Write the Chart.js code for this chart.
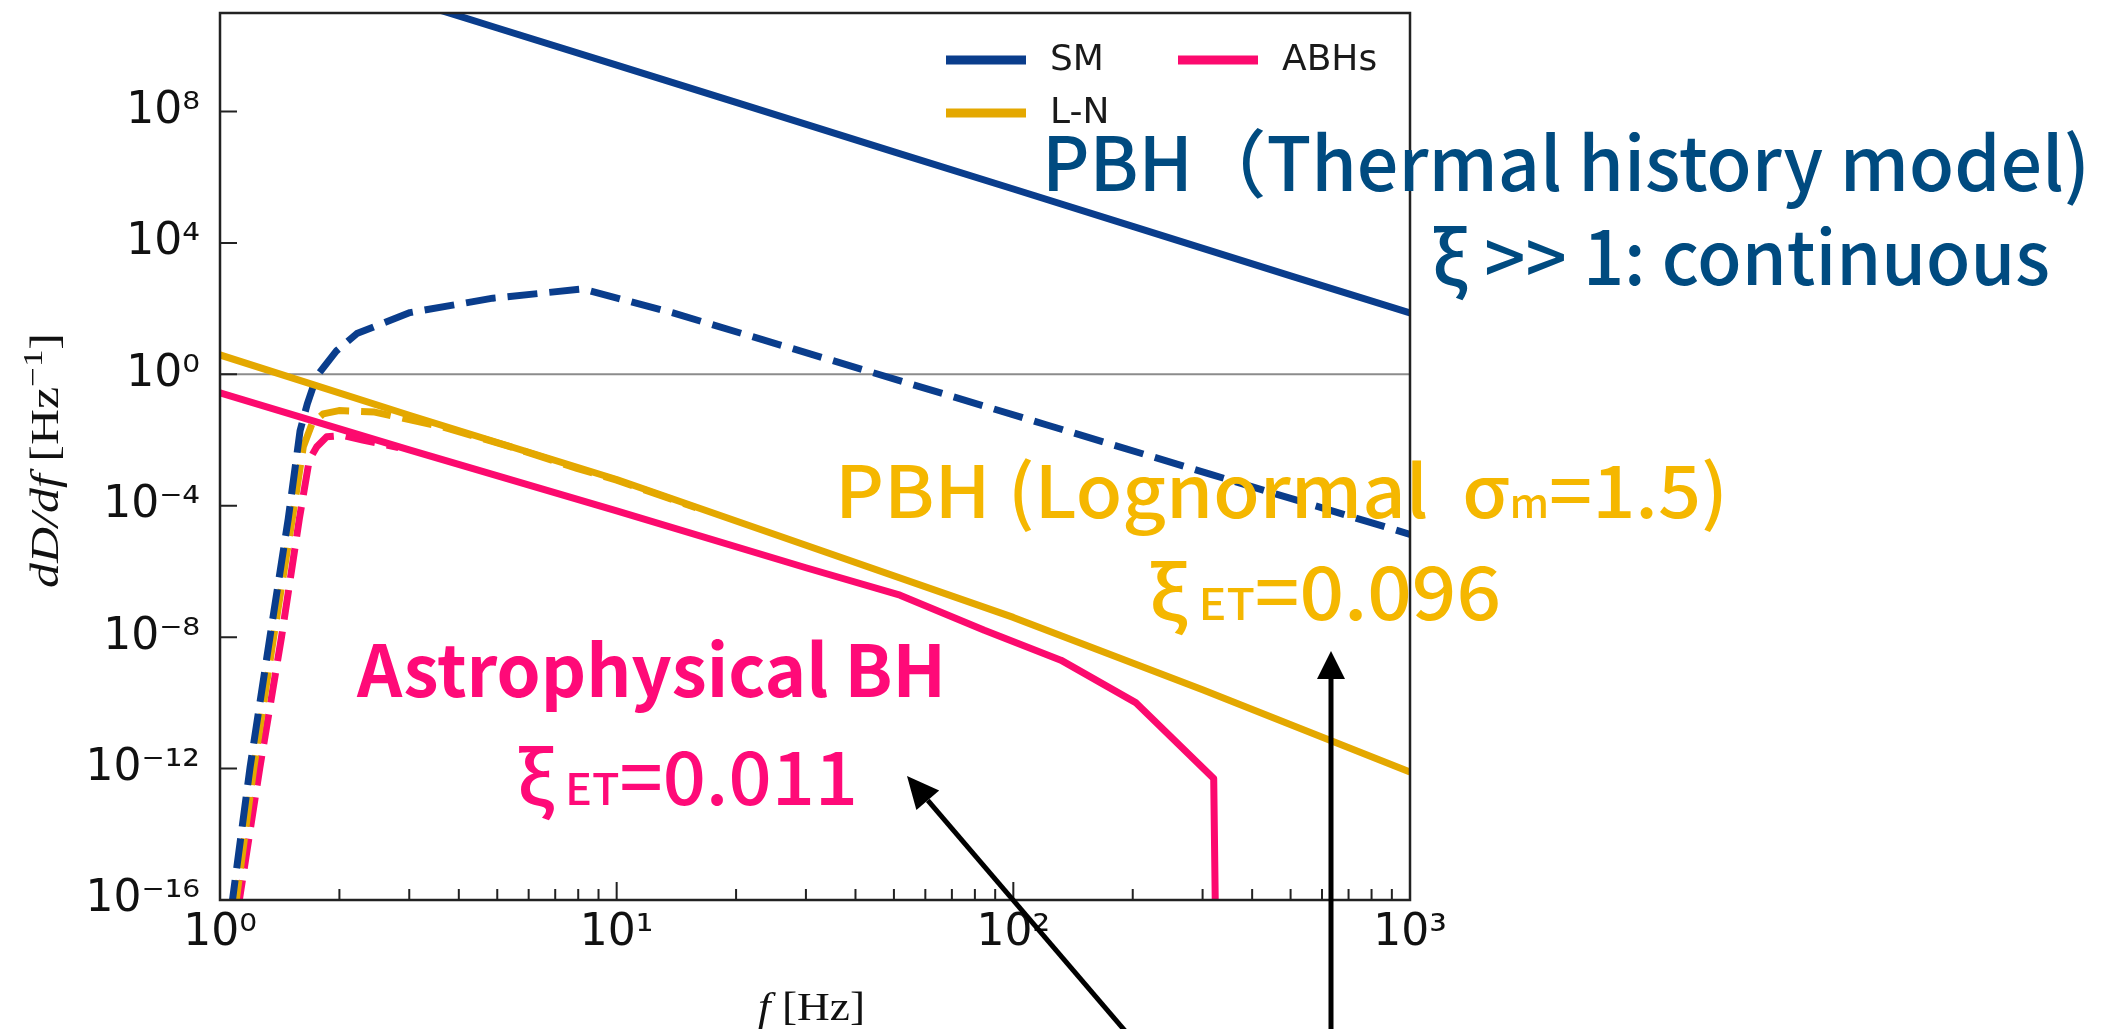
<!DOCTYPE html>
<html>
<head>
<meta charset="utf-8">
<script src="https://cdn.jsdelivr.net/npm/chart.js@4.4.1/dist/chart.umd.min.js"></script>
<style>
  html, body { margin: 0; padding: 0; background: #fff; }
</style>
</head>
<body>
<canvas id="chart" width="2110" height="1029"></canvas>
<script>
// values: f in Hz, dD/df in Hz^-1
const smFreq = [1, 2, 5, 10, 20, 50, 100, 200, 500, 1000];
const smVal = [1.5e13, 1.1e12, 3.5e10, 2.6e9, 1.9e8, 5.9e6, 4.4e5, 3.2e4, 1.0e3, 74];
const smDashFreq = [1.067, 1.191, 1.337, 1.486, 1.592, 1.66, 1.754, 1.968, 2.213, 3.013, 4.875, 8.222, 13.87, 44.36, 121.6, 316.2, 1000];
const smDashVal = [5e-17, 1.12e-12, 1.05e-8, 4.0e-5, 0.0195, 0.126, 0.89, 5.25, 17.4, 76, 209, 398, 74, 1.12, 0.0288, 8.9e-4, 1.35e-5];

const lnFreq = [1, 3, 10, 30, 100, 300, 1000];
const lnVal = [3.9, 0.057, 6.3e-4, 6.3e-6, 4.0e-8, 2.5e-10, 7.9e-13];
const lnDashFreq = [1.091, 1.216, 1.365, 1.521, 1.622, 1.706, 1.82, 1.995, 2.455, 3.656, 5.383, 7.943, 10, 15.85];
const lnDashVal = [5e-17, 1e-12, 1e-8, 4.0e-5, 6.3e-3, 0.0316, 0.063, 0.079, 0.071, 0.025, 6.3e-3, 1.38e-3, 6.0e-4, 8.7e-5];

const abhFreq = [1, 3, 10, 30, 51.8, 84.5, 131.8, 204, 320, 323.6];
const abhVal = [0.275, 5.0e-3, 7.0e-5, 1.3e-6, 1.9e-7, 1.62e-8, 2.0e-9, 1.0e-10, 5.0e-13, 1e-17];
const abhDashFreq = [1.109, 1.259, 1.429, 1.585, 1.679, 1.754, 1.858, 2.042, 2.291, 2.818];
const abhDashVal = [5e-17, 1e-12, 1e-8, 4e-5, 2.5e-3, 6.3e-3, 0.0126, 0.0138, 0.01, 5.9e-3];

const unityFreq = [1, 1000];
const unityVal = [1, 1];

const xTickValues = [1, 10, 100, 1000];
const xTickLabels = ['10⁰', '10¹', '10²', '10³'];
const yTickValues = [1e-16, 1e-12, 1e-8, 1e-4, 1, 1e4, 1e8];
const yTickLabels = ['10⁻¹⁶', '10⁻¹²', '10⁻⁸', '10⁻⁴', '10⁰', '10⁴', '10⁸'];

const blue = '#0a3d8c', gold = '#e4a800', pink = '#fc0a6e';
const textBlue = '#004b80', textGold = '#f5b700', textPink = '#ff0a78';
const jp = '"Noto Sans CJK JP", "Noto Sans", sans-serif';
const serif = '"Liberation Serif", "DejaVu Serif", serif';

const pts = (fs, vs) => fs.map((f, i) => ({ x: f, y: vs[i] }));

function series(label, fs, vs, color, dashed, order, width) {
  return {
    label, data: pts(fs, vs), borderColor: color, backgroundColor: color,
    borderWidth: width || 7, borderDash: dashed ? [30, 12] : [],
    pointRadius: 0, tension: 0, fill: false, order, clip: 0,
    borderCapStyle: 'butt', borderJoinStyle: 'round'
  };
}

// minor ticks 2..9 in each decade on the x axis
const xMinor = [];
[1, 10, 100].forEach(d => { for (let k = 2; k < 10; k++) xMinor.push(k * d); });

// draw a run of text pieces on one baseline, squeezed to a given width
function drawRun(ctx, segs, x, y, width, color) {
  ctx.save();
  let total = 0;
  segs.forEach(s => { ctx.font = s.font; total += ctx.measureText(s.t).width; });
  ctx.translate(x, y);
  ctx.scale(width / total, 1);
  ctx.fillStyle = color;
  ctx.textBaseline = 'alphabetic';
  ctx.textAlign = 'left';
  let cx = 0;
  segs.forEach(s => {
    ctx.font = s.font;
    ctx.fillText(s.t, cx, s.dy || 0);
    cx += ctx.measureText(s.t).width;
  });
  ctx.restore();
}

function arrow(ctx, x0, y0, x1, y1, L, W) {
  const a = Math.atan2(y1 - y0, x1 - x0);
  const bx = x1 - L * Math.cos(a), by = y1 - L * Math.sin(a);
  ctx.beginPath(); ctx.moveTo(x0, y0); ctx.lineTo(bx, by); ctx.stroke();
  ctx.beginPath();
  ctx.moveTo(x1, y1);
  ctx.lineTo(bx + W * Math.sin(a), by - W * Math.cos(a));
  ctx.lineTo(bx - W * Math.sin(a), by + W * Math.cos(a));
  ctx.closePath(); ctx.fill();
}

const framePlugin = {
  id: 'frame',
  afterDatasetsDraw(chart) {
    const { ctx, chartArea: a, scales: { x, y } } = chart;
    ctx.save();
    ctx.strokeStyle = '#222';
    ctx.lineWidth = 2.5;
    ctx.strokeRect(a.left, a.top, a.right - a.left, a.bottom - a.top);
    ctx.lineWidth = 2;
    ctx.beginPath();
    xTickValues.forEach(v => { const p = x.getPixelForValue(v); ctx.moveTo(p, a.bottom); ctx.lineTo(p, a.bottom - 18); });
    xMinor.forEach(v => { const p = x.getPixelForValue(v); ctx.moveTo(p, a.bottom); ctx.lineTo(p, a.bottom - 11); });
    yTickValues.forEach(v => { const p = y.getPixelForValue(v); ctx.moveTo(a.left, p); ctx.lineTo(a.left + 17, p); });
    ctx.stroke();
    ctx.restore();
  }
};

const notesPlugin = {
  id: 'notes',
  afterDraw(chart) {
    const { ctx, chartArea: a } = chart;

    // legend
    const legend = [
      { label: 'SM', color: blue, x: a.right - 464, y: a.top + 47 },
      { label: 'ABHs', color: pink, x: a.right - 232, y: a.top + 47 },
      { label: 'L-N', color: gold, x: a.right - 464, y: a.top + 100 }
    ];
    ctx.save();
    ctx.font = '36px "DejaVu Sans", sans-serif';
    ctx.textBaseline = 'middle';
    legend.forEach(l => {
      ctx.fillStyle = l.color;
      ctx.fillRect(l.x, l.y - 4.5, 80, 9);
      ctx.fillStyle = '#1a1a1a';
      ctx.fillText(l.label, l.x + 104, l.y + 1);
    });
    ctx.restore();

    // axis titles
    drawRun(ctx, [
      { t: 'f', font: 'italic 40px ' + serif },
      { t: ' [Hz]', font: '40px ' + serif }
    ], 758, 1020, 107, '#111');
    ctx.save();
    ctx.translate(58, 460);
    ctx.rotate(-Math.PI / 2);
    drawRun(ctx, [
      { t: 'dD/df', font: 'italic 40px ' + serif },
      { t: ' [Hz', font: '40px ' + serif },
      { t: '−1', font: '28px ' + serif, dy: -16 },
      { t: ']', font: '40px ' + serif }
    ], -128, 0, 255, '#111');
    ctx.restore();

    // annotations
    drawRun(ctx, [{ t: 'PBH（Thermal history model)', font: '500 74px ' + jp }], 1042, 191, 1048, textBlue);
    drawRun(ctx, [{ t: 'ξ >> 1: continuous', font: '500 74px ' + jp }], 1432, 285, 618, textBlue);
    drawRun(ctx, [
      { t: 'PBH (Lognormal  σ', font: '500 72px ' + jp },
      { t: 'm', font: '500 40px ' + jp },
      { t: '=1.5)', font: '500 72px ' + jp }
    ], 835, 518, 893, textGold);
    drawRun(ctx, [
      { t: 'ξ', font: '500 74px ' + jp },
      { t: ' ET', font: '500 44px ' + jp },
      { t: '=0.096', font: '500 74px ' + jp }
    ], 1149, 620, 352, textGold);
    drawRun(ctx, [{ t: 'Astrophysical BH', font: 'bold 72px ' + jp }], 357, 697, 589, textPink);
    drawRun(ctx, [
      { t: 'ξ', font: '500 74px ' + jp },
      { t: ' ET', font: '500 44px ' + jp },
      { t: '=0.011', font: '500 74px ' + jp }
    ], 517, 805, 341, textPink);

    // arrows
    ctx.save();
    ctx.strokeStyle = '#000';
    ctx.fillStyle = '#000';
    ctx.lineWidth = 5;
    arrow(ctx, 1132, 1039, 907, 776, 32, 15);
    arrow(ctx, 1331, 1039, 1331, 651, 28, 14);
    ctx.restore();
  }
};

const tickFont = { family: '"DejaVu Sans", sans-serif', size: 44 };

new Chart(document.getElementById('chart'), {
  type: 'line',
  data: {
    datasets: [
      series('SM', smFreq, smVal, blue, false, 1),
      series('L-N', lnFreq, lnVal, gold, false, 1),
      series('ABHs', abhFreq, abhVal, pink, false, 1),
      series('SM dashed', smDashFreq, smDashVal, blue, true, 2),
      series('L-N dashed', lnDashFreq, lnDashVal, gold, true, 2),
      series('ABHs dashed', abhDashFreq, abhDashVal, pink, true, 2),
      series('unity', unityFreq, unityVal, '#8c8c8c', false, 3, 2)
    ]
  },
  options: {
    responsive: false,
    animation: false,
    devicePixelRatio: 1,
    events: [],
    layout: { padding: { left: 70, right: 700, top: 13, bottom: 59 } },
    plugins: { legend: { display: false }, tooltip: { enabled: false } },
    scales: {
      x: {
        type: 'logarithmic', position: 'bottom', min: 1, max: 1000,
        grid: { display: false, drawTicks: false, tickLength: 0 },
        border: { display: false },
        afterBuildTicks: s => { s.ticks = xTickValues.map(v => ({ value: v })); },
        afterFit: s => { s.height = 70; s.paddingLeft = 0; s.paddingRight = 0; },
        ticks: {
          autoSkip: false, maxRotation: 0, padding: 7, color: '#111', font: tickFont,
          callback: (v) => { const i = xTickValues.indexOf(v); return i >= 0 ? xTickLabels[i] : ''; }
        }
      },
      y: {
        type: 'logarithmic', position: 'left', min: 1e-16, max: 1e11,
        grid: { display: false, drawTicks: false, tickLength: 0 },
        border: { display: false },
        afterBuildTicks: s => { s.ticks = yTickValues.map(v => ({ value: v })); },
        afterFit: s => { s.width = 150; s.paddingTop = 0; s.paddingBottom = 0; },
        ticks: {
          autoSkip: false, padding: 20, color: '#111', font: tickFont,
          callback: (v) => { const i = yTickValues.indexOf(v); return i >= 0 ? yTickLabels[i] : ''; }
        }
      }
    }
  },
  plugins: [framePlugin, notesPlugin]
});
</script>
</body>
</html>
